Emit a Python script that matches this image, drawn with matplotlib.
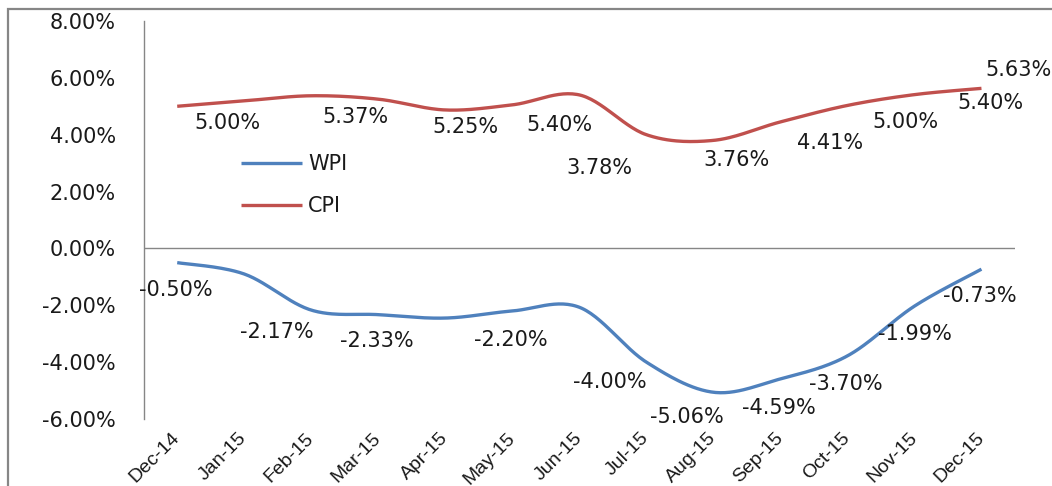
import matplotlib
matplotlib.use('Agg')
import matplotlib.pyplot as plt
import numpy as np
from matplotlib.patches import Rectangle

months = ['Dec-14', 'Jan-15', 'Feb-15', 'Mar-15', 'Apr-15', 'May-15', 'Jun-15',
          'Jul-15', 'Aug-15', 'Sep-15', 'Oct-15', 'Nov-15', 'Dec-15']

# values (%)
wpi = [-0.50, -0.90, -2.17, -2.33, -2.45, -2.20, -2.07, -4.00, -5.06, -4.59, -3.78, -2.03, -0.73]
cpi = [5.00, 5.19, 5.37, 5.25, 4.87, 5.05, 5.40, 4.00, 3.80, 4.45, 5.03, 5.41, 5.63]

# data labels shown on the chart (index of month, text)
wpi_labels = [(0, '-0.50%'), (2, '-2.17%'), (3, '-2.33%'), (5, '-2.20%'), (7, '-4.00%'),
              (8, '-5.06%'), (9, '-4.59%'), (10, '-3.70%'), (11, '-1.99%'), (12, '-0.73%')]
cpi_labels = [(0, '5.00%'), (2, '5.37%'), (3, '5.25%'), (6, '5.40%'), (7, '3.78%'),
              (8, '3.76%'), (9, '4.41%'), (10, '5.00%'), (11, '5.40%'), (12, '5.63%')]

# label offsets in points (dx, dy), relative to the data point
wpi_offs = [(-1, -20), (-25, -16), (-1, -19), (-1, -21), (-26, -14),
            (-19, -18), (-1, -21), (-1, -20), (0, -20), (-1, -19)]
cpi_offs = [(36, -12), (32, -15), (63, -20), (-14, -22), (-34, -24),
            (17, -14), (36, -15), (42, -12), (55, -6), (27, 13)]

BLUE = '#4F81BD'
RED = '#C0504D'
GRAY = '#868686'
TXT = '#1a1a1a'


def smooth(xs, ys, n=30):
    # excel-style smoothed line (catmull-rom as bezier segments)
    p = np.column_stack([xs, ys]).astype(float)
    p = np.vstack([p[0], p, p[-1]])
    out = []
    t = np.linspace(0, 1, n)[:, None]
    for i in range(1, len(p) - 2):
        p0, p1, p2, p3 = p[i - 1], p[i], p[i + 1], p[i + 2]
        c1 = p1 + (p2 - p0) / 6
        c2 = p2 - (p3 - p1) / 6
        seg = ((1 - t) ** 3) * p1 + 3 * ((1 - t) ** 2) * t * c1 + 3 * (1 - t) * t ** 2 * c2 + t ** 3 * p2
        out.append(seg if i == 1 else seg[1:])
    out = np.vstack(out)
    return out[:, 0], out[:, 1]


fig = plt.figure(figsize=(10.52, 4.86), dpi=100)
ax = fig.add_axes([0.1366, 0.1379, 0.8282, 0.8189])

x = np.arange(len(months))
sx, sy = smooth(x, wpi)
ax.plot(sx, sy, color=BLUE, lw=2.4, label='WPI', solid_capstyle='butt')
sx, sy = smooth(x, cpi)
ax.plot(sx, sy, color=RED, lw=2.4, label='CPI', solid_capstyle='butt')

ax.axhline(0, color=GRAY, lw=1)

for (i, txt), off in zip(wpi_labels, wpi_offs):
    ax.annotate(txt, (i, wpi[i]), xytext=off, textcoords='offset points',
                ha='center', va='center', fontsize=15, color=TXT,
                annotation_clip=False)
for (i, txt), off in zip(cpi_labels, cpi_offs):
    ax.annotate(txt, (i, cpi[i]), xytext=off, textcoords='offset points',
                ha='center', va='center', fontsize=15, color=TXT,
                annotation_clip=False)

ax.set_xlim(-0.5, len(months) - 0.5)
ax.set_ylim(-6, 8)
ax.set_yticks(np.arange(-6, 9, 2))
ax.set_yticklabels(['%.2f%%' % v for v in np.arange(-6, 9, 2)], fontsize=15)
ax.set_xticks(x)
ax.set_xticklabels(months, rotation=45, ha='right', va='center', rotation_mode='anchor',
                   fontsize=14, family='Liberation Sans')
ax.tick_params(axis='y', length=0, pad=20, labelcolor=TXT)
ax.tick_params(axis='x', length=0, pad=12, labelcolor=TXT)

for s in ['top', 'right', 'bottom']:
    ax.spines[s].set_visible(False)
ax.spines['left'].set_color(GRAY)
ax.spines['left'].set_linewidth(1)

leg = ax.legend(loc='upper left', bbox_to_anchor=(0.112, 0.665), frameon=False,
                fontsize=15, handlelength=2.9, handletextpad=0.3, labelspacing=1.05,
                borderpad=0, borderaxespad=0)
for t in leg.get_texts():
    t.set_color(TXT)

# outer chart frame (cut off at the right and bottom of the picture)
fig.patches.append(Rectangle((8 / 1052, -0.1), 1.2, 1 - 9 / 486 + 0.1,
                             transform=fig.transFigure, fill=False,
                             edgecolor=GRAY, lw=1.6))

fig.savefig('out.png', dpi=100)
